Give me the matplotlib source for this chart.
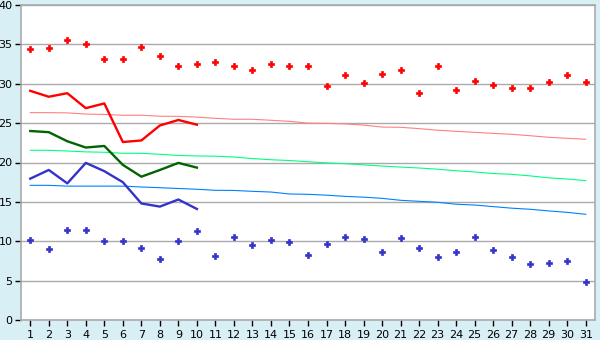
import matplotlib
matplotlib.use("Agg")
import matplotlib.pyplot as plt

days = list(range(1, 32))

rec_max = [34.4, 34.6, 35.6, 35.0, 33.2, 33.1, 34.7, 33.5, 32.3, 32.5,
           32.7, 32.2, 31.7, 32.45, 32.2, 32.2, 29.7, 31.05, 30.05, 31.3,
           31.8, 28.8, 32.2, 29.2, 30.3, 29.9, 29.5, 29.5, 30.2, 31.05, 30.2]
rec_min = [10.1, 9.05, 11.4, 11.4, 10.0, 10.0, 9.2, 7.7, 10.0, 11.25,
           8.1, 10.5, 9.5, 10.1, 9.85, 8.2, 9.6, 10.6, 10.25, 8.6,
           10.35, 9.1, 7.95, 8.6, 10.5, 8.95, 7.95, 7.05, 7.2, 7.45, 4.8]

obs_days = list(range(1, 11))
obs_max = [29.1, 28.35, 28.8, 26.9, 27.5, 22.6, 22.8, 24.7, 25.4, 24.8]
obs_mean = [24.0, 23.85, 22.7, 21.9, 22.1, 19.7, 18.2, 19.05, 19.95, 19.35]
obs_min = [17.95, 19.05, 17.35, 19.95, 18.9, 17.5, 14.8, 14.4, 15.3, 14.1]

norm_max = [26.33, 26.33, 26.3, 26.15, 26.1, 26.0, 26.0, 25.88, 25.86, 25.76,
            25.61, 25.49, 25.49, 25.36, 25.23, 25.0, 24.97, 24.9, 24.75, 24.5,
            24.47, 24.3, 24.1, 23.96, 23.83, 23.7, 23.58, 23.4, 23.2, 23.07, 22.95]
norm_mean = [21.55, 21.55, 21.46, 21.35, 21.3, 21.17, 21.17, 21.04, 20.9, 20.83,
             20.8, 20.7, 20.5, 20.35, 20.25, 20.1, 19.95, 19.85, 19.7, 19.55,
             19.42, 19.3, 19.15, 18.95, 18.8, 18.6, 18.5, 18.3, 18.05, 17.9, 17.7]
norm_min = [17.1, 17.1, 17.0, 17.0, 17.0, 17.0, 16.89, 16.8, 16.7, 16.6,
            16.47, 16.45, 16.34, 16.25, 16.0, 15.96, 15.85, 15.7, 15.6, 15.45,
            15.2, 15.07, 14.95, 14.7, 14.6, 14.4, 14.2, 14.06, 13.85, 13.67, 13.42]

y_ticks = [0, 5, 10, 15, 20, 25, 30, 35, 40]

bg = "#d9eff6"
fig = plt.figure(figsize=(6.0, 3.4), dpi=100, facecolor=bg)
ax = fig.add_axes([21 / 600, 20 / 340, 574 / 600, 315 / 340])
ax.set_facecolor("white")

ax.set_xlim(0.5, 31.5)
ax.set_ylim(0, 40)
ax.set_yticks(y_ticks)
ax.set_xticks(days)
ax.grid(axis="y", color="#aaaaaa", linewidth=1)
ax.set_axisbelow(True)

for s in ["left", "bottom", "top", "right"]:
    ax.spines[s].set_color("#aaaaaa")
    ax.spines[s].set_linewidth(1.2)

ax.tick_params(axis="both", labelsize=8, colors="black", length=4, width=1, pad=2)
ax.tick_params(axis="x", direction="out", pad=3)

ax.plot(days, norm_max, color="#ff8080", linewidth=0.8)
ax.plot(days, norm_mean, color="#00ff80", linewidth=0.8)
ax.plot(days, norm_min, color="#0080ff", linewidth=0.8)

ax.plot(obs_days, obs_max, color="#ff0000", linewidth=1.7)
ax.plot(obs_days, obs_mean, color="#006400", linewidth=1.7)
ax.plot(obs_days, obs_min, color="#3333cc", linewidth=1.7)

ax.plot(days, rec_max, linestyle="none", marker="P", markersize=4.6,
        color="#ff0000", markeredgewidth=0.5, markeredgecolor="#ff0000")
ax.plot(days, rec_min, linestyle="none", marker="P", markersize=4.6,
        color="#3333cc", markeredgewidth=0.5, markeredgecolor="#3333cc")

fig.savefig("out.png", dpi=100, facecolor=bg)
